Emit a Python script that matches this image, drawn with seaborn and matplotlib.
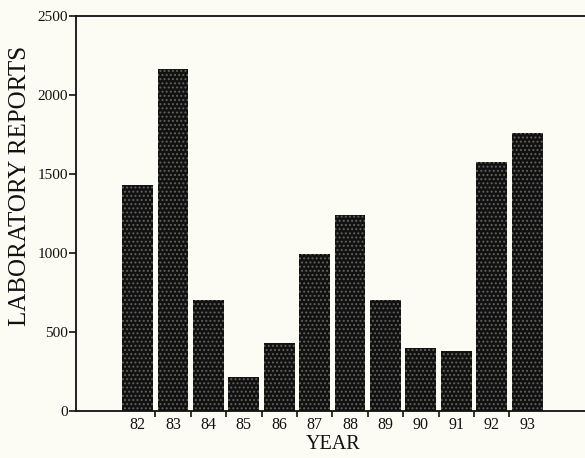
import matplotlib
matplotlib.use("Agg")
import matplotlib.pyplot as plt
import seaborn as sns
import pandas as pd
from matplotlib.ticker import FixedLocator

# Laboratory reports per year
years = ["82", "83", "84", "85", "86", "87", "88", "89", "90", "91", "92", "93"]
reports = [1430, 2160, 700, 212, 430, 990, 1240, 700, 398, 378, 1575, 1760]
y_ticks = [0, 500, 1000, 1500, 2000, 2500]

sns.set_theme(style="white")
plt.rcParams["font.family"] = ["Liberation Serif", "DejaVu Serif"]
plt.rcParams["hatch.linewidth"] = 0.9

paper = "#fdfcf4"
ink = "#111111"

df = pd.DataFrame({"year": years, "reports": reports})

fig = plt.figure(figsize=(5.85, 4.58), dpi=100, facecolor=paper)
ax = fig.add_axes([0.130, 0.1037, 0.88, 0.862])
ax.set_facecolor(paper)

sns.barplot(data=df, x="year", y="reports", color=ink, saturation=1,
            width=0.87, hatch="....", edgecolor="#62625e", linewidth=0,
            ax=ax)

ax.set_xlim(-1.737, 12.80)
ax.set_ylim(0, 2500)
ax.set_yticks(y_ticks)
ax.set_yticklabels([str(v) for v in y_ticks], fontsize=11, color=ink)

ax.tick_params(axis="x", which="major", length=0, pad=5, labelsize=11.5,
               labelcolor=ink)
ax.xaxis.set_minor_locator(FixedLocator([i + 0.5 for i in range(len(years) - 1)]))
ax.tick_params(axis="x", which="minor", bottom=True, direction="out",
               length=4, width=1.2, color=ink)
ax.tick_params(axis="y", left=True, direction="out", length=5, width=1.2,
               color=ink, pad=1)

for side in ["left", "bottom", "top"]:
    ax.spines[side].set_visible(True)
    ax.spines[side].set_color(ink)
    ax.spines[side].set_linewidth(1.3)
ax.spines["right"].set_visible(False)

ax.set_xlabel("YEAR", fontsize=14.5, color=ink, labelpad=1)
ax.set_ylabel("LABORATORY REPORTS", fontsize=18, color=ink)
ax.yaxis.set_label_coords(-0.088, 0.57)

fig.savefig("out.png", dpi=100, facecolor=paper)
